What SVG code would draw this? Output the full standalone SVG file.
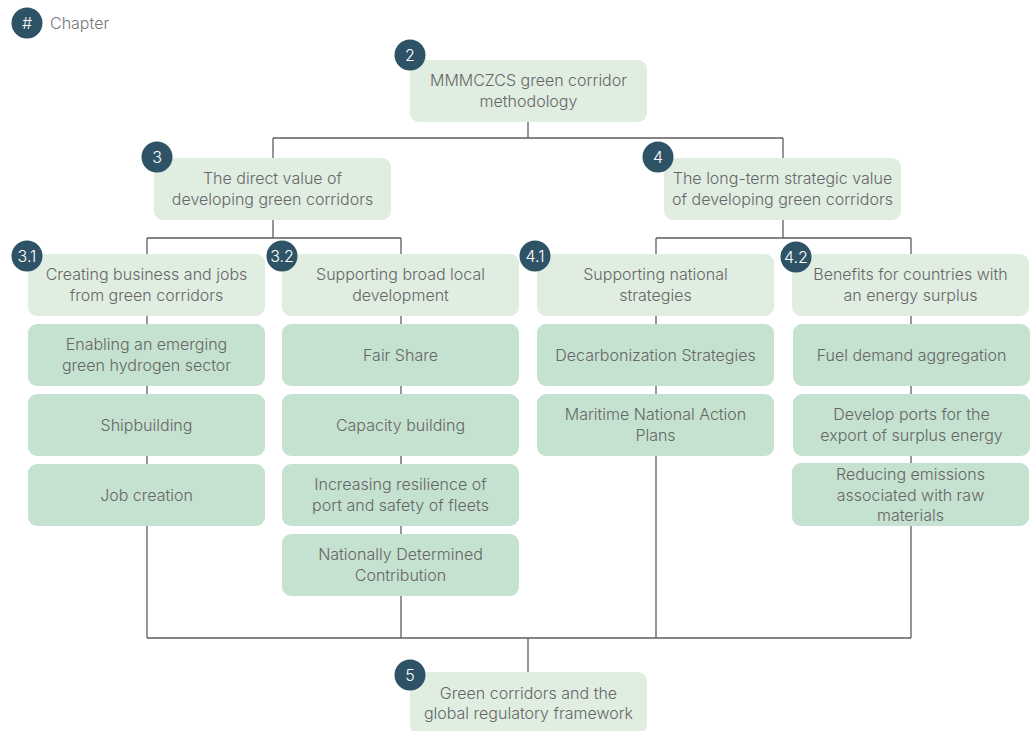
<svg xmlns="http://www.w3.org/2000/svg" width="1034" height="731" viewBox="0 0 1034 731">
  <style>
    .hd { fill: #e0eee2; }
    .it { fill: #c5e2d0; }
    .t { font-family: Inter, "Liberation Sans", sans-serif; font-size: 16px; font-weight: 300; fill: #666; text-anchor: middle; }
    .badge circle { fill: #2e5366; }
    .badge text { font-family: Inter, "Liberation Sans", sans-serif; font-size: 16px; font-weight: 300; fill: #fff; text-anchor: middle; }
    .conn { fill: none; stroke: #5e5e5e; stroke-width: 1.3; }
  </style>
  <rect width="1034" height="731" fill="#fff"/>

  <!-- connectors drawn first so boxes sit on top -->
  <g id="connectors" class="conn">
    <path d="M528 122V138M273 138H783M273 138V158M783 138V158"/>
    <path d="M273 220V238M147 238H401M147 238V254M401 238V254"/>
    <path d="M783 220V238M656 238H911M656 238V254M911 238V254"/>
    <path d="M147 316V638M401 316V638M656 316V638M911 316V638M147 638H911M528 638V672"/>
  </g>

  <!-- legend -->
  <g id="legend">
    <g class="badge"><circle cx="27" cy="23" r="15.5"/><text x="27" y="28.5">#</text></g>
    <text x="50" y="29" style="font-family: Inter, 'Liberation Sans', sans-serif; font-size: 16px; font-weight: 300; fill: #777;">Chapter</text>
  </g>

  <g id="n2">
    <rect class="hd" x="410" y="60" width="237" height="62" rx="9"/>
    <text class="t" x="528.5" y="86">MMMCZCS green corridor</text>
    <text class="t" x="528.5" y="107">methodology</text>
    <g class="badge"><circle cx="410" cy="55" r="15.5"/><text x="410" y="60.5">2</text></g>
  </g>

  <g id="n3">
    <rect class="hd" x="154" y="158" width="237" height="62" rx="9"/>
    <text class="t" x="272.5" y="184">The direct value of</text>
    <text class="t" x="272.5" y="205">developing green corridors</text>
    <g class="badge"><circle cx="157" cy="157" r="15.5"/><text x="157" y="162.5">3</text></g>
  </g>

  <g id="n4">
    <rect class="hd" x="664" y="158" width="237" height="62" rx="9"/>
    <text class="t" x="782.5" y="184">The long-term strategic value</text>
    <text class="t" x="782.5" y="205">of developing green corridors</text>
    <g class="badge"><circle cx="658" cy="157" r="15.5"/><text x="658" y="162.5">4</text></g>
  </g>

  <!-- column 3.1 -->
  <g id="n3-1">
    <rect class="hd" x="28" y="254" width="237" height="62" rx="9"/>
    <text class="t" x="146.5" y="280">Creating business and jobs</text>
    <text class="t" x="146.5" y="301">from green corridors</text>
    <g class="badge"><circle cx="27" cy="256" r="15.5"/><text x="27" y="261.5">3.1</text></g>
  </g>
  <g id="n3-1-a">
    <rect class="it" x="28" y="324" width="237" height="62" rx="9"/>
    <text class="t" x="146.5" y="350">Enabling an emerging</text>
    <text class="t" x="146.5" y="371">green hydrogen sector</text>
  </g>
  <g id="n3-1-b">
    <rect class="it" x="28" y="394" width="237" height="62" rx="9"/>
    <text class="t" x="146.5" y="430.5">Shipbuilding</text>
  </g>
  <g id="n3-1-c">
    <rect class="it" x="28" y="464" width="237" height="62" rx="9"/>
    <text class="t" x="146.5" y="500.5">Job creation</text>
  </g>

  <!-- column 3.2 -->
  <g id="n3-2">
    <rect class="hd" x="282" y="254" width="237" height="62" rx="9"/>
    <text class="t" x="400.5" y="280">Supporting broad local</text>
    <text class="t" x="400.5" y="301">development</text>
    <g class="badge"><circle cx="282" cy="256" r="15.5"/><text x="282" y="261.5">3.2</text></g>
  </g>
  <g id="n3-2-a">
    <rect class="it" x="282" y="324" width="237" height="62" rx="9"/>
    <text class="t" x="400.5" y="360.5">Fair Share</text>
  </g>
  <g id="n3-2-b">
    <rect class="it" x="282" y="394" width="237" height="62" rx="9"/>
    <text class="t" x="400.5" y="430.5">Capacity building</text>
  </g>
  <g id="n3-2-c">
    <rect class="it" x="282" y="464" width="237" height="62" rx="9"/>
    <text class="t" x="400.5" y="490">Increasing resilience of</text>
    <text class="t" x="400.5" y="511">port and safety of fleets</text>
  </g>
  <g id="n3-2-d">
    <rect class="it" x="282" y="534" width="237" height="62" rx="9"/>
    <text class="t" x="400.5" y="560">Nationally Determined</text>
    <text class="t" x="400.5" y="581">Contribution</text>
  </g>

  <!-- column 4.1 -->
  <g id="n4-1">
    <rect class="hd" x="537" y="254" width="237" height="62" rx="9"/>
    <text class="t" x="655.5" y="280">Supporting national</text>
    <text class="t" x="655.5" y="301">strategies</text>
    <g class="badge"><circle cx="535" cy="256" r="15.5"/><text x="535" y="261.5">4.1</text></g>
  </g>
  <g id="n4-1-a">
    <rect class="it" x="537" y="324" width="237" height="62" rx="9"/>
    <text class="t" x="655.5" y="360.5">Decarbonization Strategies</text>
  </g>
  <g id="n4-1-b">
    <rect class="it" x="537" y="394" width="237" height="62" rx="9"/>
    <text class="t" x="655.5" y="420">Maritime National Action</text>
    <text class="t" x="655.5" y="441">Plans</text>
  </g>

  <!-- column 4.2 -->
  <g id="n4-2">
    <rect class="hd" x="792" y="254" width="237" height="62" rx="9"/>
    <text class="t" x="910.5" y="280">Benefits for countries with</text>
    <text class="t" x="910.5" y="301">an energy surplus</text>
    <g class="badge"><circle cx="796" cy="257" r="15.5"/><text x="796" y="262.5">4.2</text></g>
  </g>
  <g id="n4-2-a">
    <rect class="it" x="793" y="324" width="237" height="62" rx="9"/>
    <text class="t" x="911.5" y="360.5">Fuel demand aggregation</text>
  </g>
  <g id="n4-2-b">
    <rect class="it" x="793" y="394" width="237" height="62" rx="9"/>
    <text class="t" x="911.5" y="420">Develop ports for the</text>
    <text class="t" x="911.5" y="441">export of surplus energy</text>
  </g>
  <g id="n4-2-c">
    <rect class="it" x="792" y="463" width="237" height="63" rx="9"/>
    <text class="t" x="910.5" y="480">Reducing emissions</text>
    <text class="t" x="910.5" y="500.5">associated with raw</text>
    <text class="t" x="910.5" y="521">materials</text>
  </g>

  <g id="n5">
    <rect class="hd" x="410" y="672" width="237" height="62" rx="9"/>
    <text class="t" x="528.5" y="699">Green corridors and the</text>
    <text class="t" x="528.5" y="719">global regulatory framework</text>
    <g class="badge"><circle cx="410" cy="675" r="15.5"/><text x="410" y="680.5">5</text></g>
  </g>
</svg>
